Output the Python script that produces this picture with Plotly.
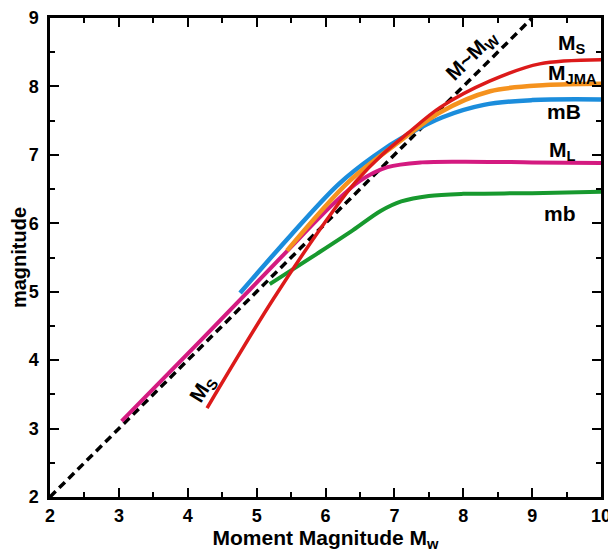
import plotly.graph_objects as go

# ---- data ----
ref_x = [2, 9]
ref_y = [2, 9]

ms_x = [4.28, 5.24, 6.11, 6.45, 6.83, 7.2, 7.66, 8.39, 9.11, 10.0]
ms_y = [3.30, 4.89, 6.18, 6.62, 7.01, 7.32, 7.69, 8.08, 8.33, 8.39]

jma_x = [5.44, 6.35, 7.08, 7.66, 8.39, 9.2, 10.0]
jma_y = [5.60, 6.62, 7.20, 7.62, 7.93, 8.02, 8.04]

mB_x = [4.76, 5.5, 6.2, 6.7, 7.2, 7.7, 8.3, 9.0, 10.0]
mB_y = [4.98, 5.83, 6.58, 6.98, 7.30, 7.55, 7.73, 7.80, 7.81]

ml_x = [3.04, 4.2, 5.4, 6.11, 6.5, 6.9, 7.4, 8.0, 9.0, 10.0]
ml_y = [3.11, 4.30, 5.55, 6.28, 6.62, 6.82, 6.89, 6.90, 6.89, 6.88]

mb_x = [5.19, 5.87, 6.4, 6.8, 7.1, 7.5, 8.0, 9.0, 10.0]
mb_y = [5.11, 5.55, 5.90, 6.18, 6.32, 6.40, 6.43, 6.44, 6.46]

x_ticks = [2, 3, 4, 5, 6, 7, 8, 9, 10]
y_ticks = [2, 3, 4, 5, 6, 7, 8, 9]

RED = "#dc1a1a"
ORANGE = "#f5921e"
BLUE = "#1b8ddc"
MAGENTA = "#d41a80"
GREEN = "#17992e"

FONT = "Liberation Sans, Arial, sans-serif"

fig = go.Figure()
fig.add_trace(go.Scatter(x=ref_x, y=ref_y, mode="lines",
                         line=dict(color="black", width=3.5, dash="8px,5px")))
fig.add_trace(go.Scatter(x=ml_x, y=ml_y, mode="lines", line_shape="spline",
                         line=dict(color=MAGENTA, width=4, smoothing=0.9)))
fig.add_trace(go.Scatter(x=mb_x, y=mb_y, mode="lines", line_shape="spline",
                         line=dict(color=GREEN, width=4, smoothing=0.9)))
fig.add_trace(go.Scatter(x=mB_x, y=mB_y, mode="lines", line_shape="spline",
                         line=dict(color=BLUE, width=4.5, smoothing=1.0)))
fig.add_trace(go.Scatter(x=jma_x, y=jma_y, mode="lines", line_shape="spline",
                         line=dict(color=ORANGE, width=4.5, smoothing=0.9)))
fig.add_trace(go.Scatter(x=ms_x, y=ms_y, mode="lines", line_shape="spline",
                         line=dict(color=RED, width=3.5, smoothing=0.9)))

lab_font = dict(family=FONT, size=21, color="black", weight="bold")
annos = [
    dict(x=8.12, y=8.45, text="M~M<sub>W</sub>", textangle=-45),
    dict(x=9.81, y=8.62, text="M<sub>S</sub>", xanchor="right"),
    dict(x=9.97, y=8.18, text="M<sub>JMA</sub>", xanchor="right"),
    dict(x=9.74, y=7.63, text="mB", xanchor="right"),
    dict(x=9.66, y=7.05, text="M<sub>L</sub>", xanchor="right"),
    dict(x=9.66, y=6.15, text="mb", xanchor="right"),
    dict(x=4.22, y=3.58, text="M<sub>S</sub>", textangle=-58),
]
for a in annos:
    fig.add_annotation(showarrow=False, font=lab_font, **a)

axis_common = dict(
    showline=True, linecolor="black", linewidth=2.5, mirror="ticks",
    ticks="inside", ticklen=9, tickwidth=2, tickcolor="black",
    showgrid=False, zeroline=False, automargin=False,
    tickfont=dict(family=FONT, size=18, color="black", weight="bold"),
    minor=dict(ticks="inside", ticklen=5, tickwidth=2, tickcolor="black", dtick=0.5, showgrid=False),
)

# the page body adds an 8px offset, so the figure is 608x544
fig.update_layout(
    width=608, height=544,
    margin=dict(l=42, r=15, t=10, b=55),
    paper_bgcolor="white", plot_bgcolor="white",
    showlegend=False,
    xaxis=dict(range=[2, 10], tickvals=x_ticks, ticklabelstandoff=1,
               title=dict(text="Moment Magnitude M<sub>w</sub>", standoff=13,
                          font=dict(family=FONT, size=21, color="black", weight="bold")),
               **axis_common),
    yaxis=dict(range=[2, 9], tickvals=y_ticks, ticklabelstandoff=5,
               title=dict(text="magnitude", standoff=4,
                          font=dict(family=FONT, size=20, color="black", weight="bold")),
               **axis_common),
)

fig.write_html("out.html")
